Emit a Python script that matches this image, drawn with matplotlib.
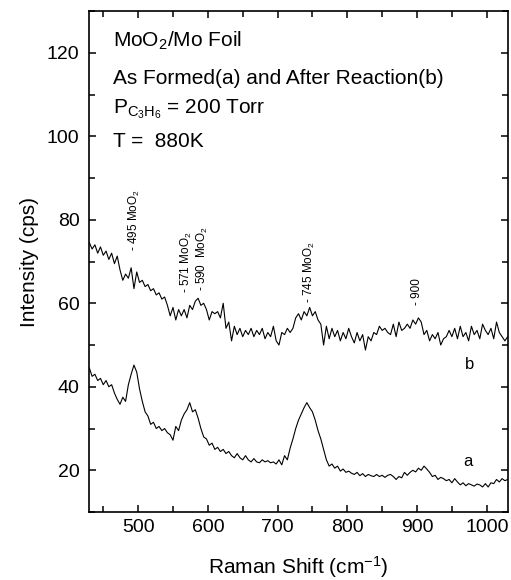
import numpy as np
import matplotlib
matplotlib.use("Agg")
import matplotlib.pyplot as plt
from matplotlib.ticker import MultipleLocator

plt.rcParams['font.family'] = ['Liberation Sans', 'DejaVu Sans']
plt.rcParams['mathtext.fontset'] = 'custom'
plt.rcParams['mathtext.rm'] = 'Liberation Sans'
plt.rcParams['mathtext.it'] = 'Liberation Sans'

# Raman shift grid (cm^-1)
shift = list(range(430, 1031, 4))

# Curve b: after reaction
intensity_b = [
    74.5, 73.0, 74.0, 72.0, 73.5, 71.5, 72.5, 70.5, 72.0, 69.5,
    71.3, 68.0, 65.5, 67.0, 66.0, 68.5, 63.5, 67.5, 65.0, 65.5,
    64.0, 64.5, 63.0, 63.5, 62.0, 62.5, 61.0, 61.5, 59.5, 57.0,
    59.0, 56.0, 58.5, 57.0, 58.5, 56.5, 59.5, 58.5, 60.5, 61.2,
    59.5, 60.0, 58.5, 56.0, 58.0, 57.5, 58.0, 56.5, 60.0, 54.0,
    55.5, 51.0, 54.5, 52.5, 54.0, 52.0, 53.5, 52.5, 54.0, 52.0,
    53.5, 52.5, 54.0, 51.5, 53.0, 52.0, 54.5, 51.0, 50.0, 53.0,
    52.5, 54.0, 53.0, 54.0, 56.5, 57.5, 56.0, 58.0, 57.0, 59.0,
    57.0, 58.0, 56.0, 55.0, 50.0, 54.5, 51.5, 54.0, 52.0, 53.5,
    51.0, 53.0, 51.5, 54.0, 52.0, 50.5, 53.0, 51.0, 52.5, 48.8,
    52.0, 51.0, 53.0, 52.5, 54.5, 53.5, 54.0, 53.0, 52.5, 55.0,
    52.0, 55.5, 53.5, 54.0, 55.0, 54.0, 56.0, 55.0, 56.5, 55.5,
    52.5, 53.5, 51.0, 52.5, 51.5, 53.0, 50.0, 51.5, 52.0, 53.5,
    52.0, 54.0, 51.5, 54.5, 52.0, 53.0, 51.0, 54.5, 52.5, 53.5,
    51.5, 55.0, 53.5, 52.5, 54.0, 51.5, 55.5, 53.0, 52.0, 51.0,
    52.0,
]

# Curve a: as formed
intensity_a = [
    44.5, 42.5, 43.0, 41.5, 42.0, 40.5, 41.5, 40.0, 40.5, 38.5,
    37.0, 35.8, 37.5, 36.5, 40.5, 43.0, 45.2, 43.5, 39.5, 36.5,
    34.0, 33.0, 31.0, 31.5, 30.0, 30.5, 29.5, 30.0, 29.0, 28.5,
    27.2, 30.5, 29.5, 32.0, 33.5, 34.5, 36.2, 34.0, 34.5, 32.5,
    30.0, 28.0, 27.5, 26.0, 26.5, 25.0, 25.5, 24.5, 25.0, 24.0,
    24.5, 23.5, 23.0, 24.0, 23.0, 22.5, 23.5, 22.5, 22.0, 22.8,
    22.0, 21.8, 22.5, 22.0, 22.3, 21.8, 22.0, 21.5, 22.5, 21.3,
    23.5, 22.5, 25.3, 27.5, 30.0, 32.0, 33.5, 35.0, 36.2, 35.0,
    34.0, 32.0, 29.5, 27.5, 25.0, 22.5, 21.0, 21.5, 20.5, 21.0,
    19.8, 20.3, 19.5, 19.8, 19.3, 19.0, 19.5, 18.7, 19.2, 18.5,
    19.0, 18.7, 18.5, 19.0, 18.5, 18.8, 18.3, 18.8, 19.0, 18.5,
    17.8, 18.5, 18.2, 19.5, 18.8, 19.5, 20.0, 19.6, 20.5, 20.0,
    21.0, 20.3, 19.5, 18.5, 18.8, 17.8, 18.3, 18.0, 17.5, 17.8,
    17.0, 18.0, 17.2, 16.5, 17.0, 16.3, 16.8, 16.5, 16.2, 16.7,
    16.5, 16.0, 16.8, 16.0, 17.0, 16.8, 17.8, 17.2, 18.0, 17.5,
    17.8,
]

# Peak annotations: (position, label, base y)
peak_pos = [495, 570, 592, 745, 900]
peak_text = ["- 495 MoO$_2$", "- 571 MoO$_2$", "- 590  MoO$_2$", "- 745 MoO$_2$", "- 900"]
peak_y = [72.5, 62.5, 63.0, 60.0, 59.5]

fig = plt.figure(figsize=(5.11, 5.80), dpi=100)
ax = fig.add_axes([0.1748, 0.1172, 0.9935 - 0.1748, 0.981 - 0.1172])

ax.plot(shift, intensity_b, color='black', lw=0.8)
ax.plot(shift, intensity_a, color='black', lw=0.8)

ax.set_xlim(430, 1030)
ax.set_ylim(10, 130)
ax.xaxis.set_major_locator(MultipleLocator(100))
ax.xaxis.set_minor_locator(MultipleLocator(50))
ax.yaxis.set_major_locator(MultipleLocator(20))
ax.yaxis.set_minor_locator(MultipleLocator(10))
ax.tick_params(which='both', direction='in', top=True, right=True, width=1.1)
ax.tick_params(which='major', length=5, labelsize=14)
ax.tick_params(axis='x', which='major', pad=5)
ax.tick_params(axis='y', which='major', pad=7)
ax.tick_params(which='minor', length=4)
for s in ax.spines.values():
    s.set_linewidth(1.2)

ax.set_xlabel("Raman Shift (cm$^{-1}$)", fontsize=15, labelpad=13)
ax.set_ylabel("Intensity (cps)", fontsize=15, labelpad=6)

for px, txt, py in zip(peak_pos, peak_text, peak_y):
    ax.text(px, py, txt, rotation=90, ha='center', va='bottom', fontsize=8.5)

ax.text(976, 45.4, "b", ha='center', va='center', fontsize=12)
ax.text(973, 22.2, "a", ha='center', va='center', fontsize=12)

tx = 0.057
fs = 15
ax.text(tx, 0.929, "MoO$_2$/Mo Foil", transform=ax.transAxes, fontsize=fs, va='baseline')
ax.text(tx, 0.854, "As Formed(a) and After Reaction(b)", transform=ax.transAxes, fontsize=fs, va='baseline')
ax.text(tx, 0.796, "P$_{\\mathrm{C_3H_6}}$ = 200 Torr", transform=ax.transAxes, fontsize=fs, va='baseline')
ax.text(tx, 0.729, "T =  880K", transform=ax.transAxes, fontsize=fs, va='baseline')

fig.savefig("out.png", dpi=100)
